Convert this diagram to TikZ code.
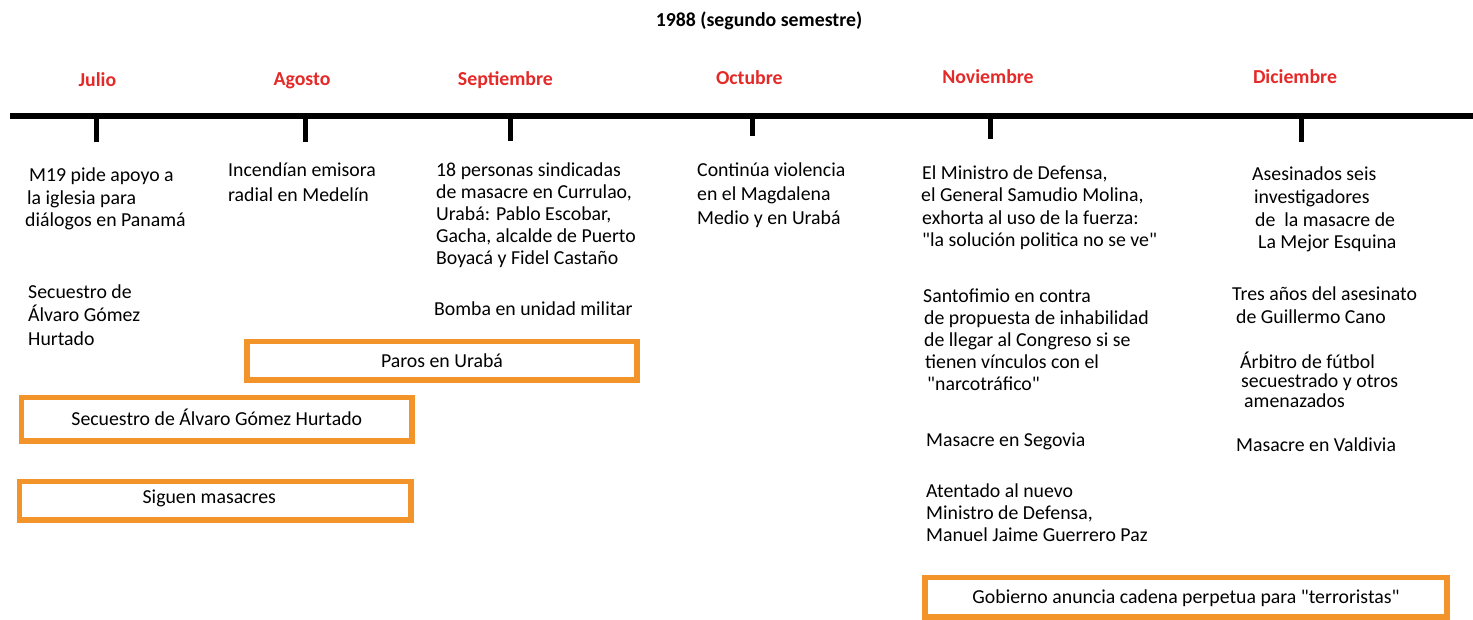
\documentclass[tikz,border=0pt]{standalone}
\usepackage{fontspec}
\setmainfont{Carlito}
\newfontfamily\calf{Carlito}
\definecolor{orng}{RGB}{242,148,42}
\definecolor{mred}{RGB}{228,42,40}
\newcommand{\fsz}[1]{\calf\fontsize{19.8}{#1}\selectfont}
\tikzset{
  txt/.style={anchor=base west, align=left, inner sep=0pt, font=\fsz{22.5}},
  month/.style={anchor=base, inner sep=0pt, text=mred, font=\calf\bfseries\fontsize{19.8}{22}\selectfont},
  tickline/.style={line width=5pt},
  axisline/.style={line width=6.3pt},
  obox/.style={draw=orng, line width=5.5pt, inner sep=0pt, font=\fsz{22}, text height=12.7pt, text depth=0pt},
}
\begin{document}
\begin{tikzpicture}[x=1pt,y=-1pt]
\useasboundingbox (0,0) rectangle (1473,620);

% title
\node[anchor=base, inner sep=0pt, font=\calf\bfseries\fontsize{19.8}{22}\selectfont] (title) at (759,26.5) {1988 (segundo semestre)};

% months
\node[month] (mjul) at (97.4,87) {Julio};
\node[month] (mago) at (302,86) {Agosto};
\node[month] (msep) at (505.4,86) {Septiembre};
\node[month] (moct) at (749.3,85) {Octubre};
\node[month] (mnov) at (988,83.3) {Noviembre};
\node[month] (mdic) at (1295,83.3) {Diciembre};

% timeline
\coordinate (axL) at (10,116);
\coordinate (axR) at (1473,116);
\draw[axisline] (axL) -- (axR);
\foreach \x/\b/\n in {96.5/142.3/tj, 305.5/142/ta, 510.7/140.7/ts, 752.4/136/to, 990.9/139.3/tn, 1301.8/142.3/td}{
  \coordinate (\n a) at (\x,118);
  \coordinate (\n b) at (\x,\b);
  \draw[tickline] (\n a) -- (\n b);
}

% (multi-line nodes are placed by the baseline of their last line)
% Julio
\node[txt, font=\fsz{22.7}] (j1) at (25,226.9) {\hspace*{4pt}M19 pide apoyo a\\\hspace*{2pt}la iglesia para\\diálogos en Panamá};
\node[txt, font=\fsz{23.5}] (j2) at (28,345) {Secuestro de\\Álvaro Gómez\\Hurtado};

% Agosto
\node[txt, font=\fsz{25}] (a1) at (228,201.7) {Incendían emisora\\radial en Medelín};

% Septiembre
\node[txt, font=\fsz{22}] (s1) at (436,264.7) {18 personas sindicadas\\de masacre en Currulao,\\Urabá: Pablo Escobar,\\Gacha, alcalde de Puerto\\Boyacá y Fidel Castaño};
\node[txt] (s2) at (434,316) {Bomba en unidad militar};

% Octubre
\node[txt, font=\fsz{24}] (o1) at (697,224.7) {Continúa violencia\\en el Magdalena\\Medio y en Urabá};

% Noviembre
\node[txt, font=\fsz{22.5}] (n1) at (921,247) {\hspace*{1pt}El Ministro de Defensa,\\el General Samudio Molina,\\\hspace*{1pt}exhorta al uso de la fuerza:\\\hspace*{1pt}"la solución politica no se ve"};
\node[txt, font=\fsz{22}] (n2) at (923,390.3) {Santofimio en contra\\\hspace*{1pt}de propuesta de inhabilidad\\\hspace*{1pt}de llegar al Congreso si se\\\hspace*{2pt}tienen vínculos con el\\\hspace*{4pt}"narcotráfico"};
\node[txt] (n3) at (926,446.7) {Masacre en Segovia};
\node[txt, font=\fsz{22.3}] (n4) at (926,541.6) {Atentado al nuevo\\Ministro de Defensa,\\Manuel Jaime Guerrero Paz};

% Diciembre
\node[txt, font=\fsz{22.7}] (d1) at (1252,248.8) {Asesinados seis\\\hspace*{2pt}investigadores\\\hspace*{3pt}de\ \ la masacre de\\\hspace*{6pt}La Mejor Esquina};
\node[txt, font=\fsz{23.3}] (d2) at (1232,324) {Tres años del asesinato\\\hspace*{4pt}de Guillermo Cano};
\node[txt, font=\fsz{19.5}] (d3) at (1240,407.3) {Árbitro de fútbol\\\hspace*{1pt}secuestrado y otros\\\hspace*{4pt}amenazados};
\node[txt] (d4) at (1236,451.7) {Masacre en Valdivia};

% orange boxes
\node[obox, minimum width=390pt, minimum height=38.5pt] (paros) at (442,360.75) {Paros en Urabá};
\node[obox, minimum width=390.5pt, minimum height=43.5pt] (secu) at (216.75,419.25) {Secuestro de Álvaro Gómez Hurtado};
\node[obox, minimum width=391.5pt, minimum height=38.5pt, text depth=8pt] (sigue) at (215.25,500.75) {\hspace*{-12pt}Siguen masacres};
\node[obox, minimum width=522pt, minimum height=39.5pt] (gob) at (1186,597.25) {Gobierno anuncia cadena perpetua para "terroristas"};
\end{tikzpicture}
\end{document}
